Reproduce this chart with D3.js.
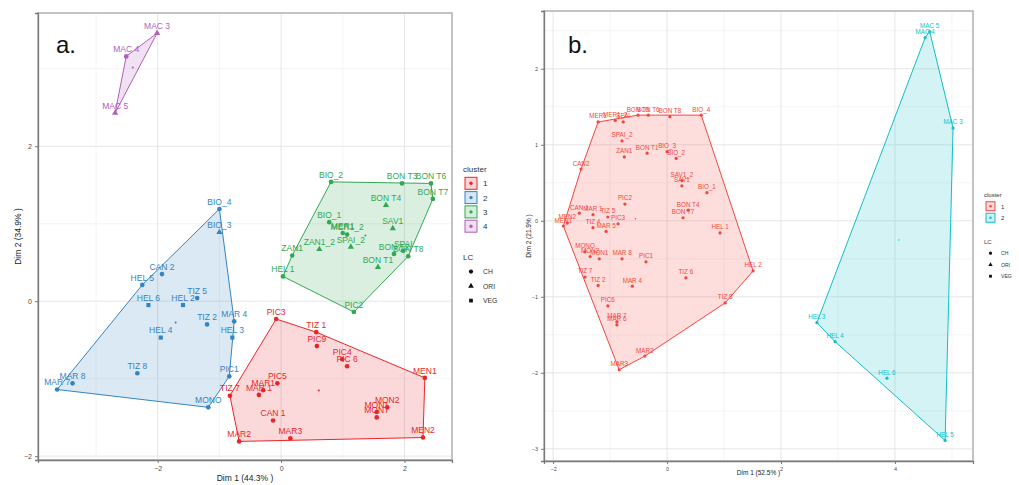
<!DOCTYPE html>
<html>
<head>
<meta charset="utf-8">
<script src="https://cdn.jsdelivr.net/npm/d3@7"></script>
<style>
  body { margin: 0; background: #fff; }
  text { font-family: "Liberation Sans", Arial, sans-serif; }
</style>
</head>
<body>
<div id="block"></div>
<script>
// panel a: points (label, Dim1, Dim2, cluster, LC)
var aLabels = ["MAC 3","MAC 4","MAC 5",
  "BIO_2","BON T3","BON T6","BON T7","BON T4","BIO_1","SAV1","MER1","MER1_2","SPAI_2","ZAN1_2","ZAN1","HEL 1","BON T1","BON T2","SPAI","BON T8","PIC2",
  "BIO_4","BIO_3","CAN 2","HEL 5","TIZ 5","HEL 6","HEL 2","TIZ 2","MAR 4","HEL 3","HEL 4","TIZ 8","PIC1","MAR 8","MAR 7","MONO",
  "PIC3","TIZ 1","PIC9","PIC4","PIC 6","MEN1","PIC5","MAR1","MAR 1","TIZ 7","MON2","MON1","MONT","CAN 1","MAR2","MAR3","MEN2"];
var aDim1 = [-2.01,-2.51,-2.69,
  0.81,1.96,2.43,2.46,1.70,0.78,1.81,1.00,1.07,1.13,0.62,0.18,0.03,1.57,1.83,1.98,2.06,1.18,
  -1.00,-1.00,-1.93,-2.25,-1.36,-2.15,-1.59,-1.20,-0.76,-0.79,-1.95,-2.33,-0.84,-3.38,-3.63,-1.18,
  -0.08,0.57,0.58,0.99,1.07,2.33,-0.06,-0.29,-0.36,-0.83,1.72,1.55,1.55,-0.13,-0.68,0.15,2.30];
var aDim2 = [3.46,3.16,2.43,
  1.54,1.52,1.52,1.32,1.24,1.02,0.94,0.88,0.86,0.70,0.67,0.59,0.32,0.44,0.61,0.65,0.58,-0.14,
  1.19,0.89,0.35,0.21,0.04,-0.05,-0.05,-0.30,-0.26,-0.47,-0.47,-0.93,-0.97,-1.06,-1.14,-1.37,
  -0.23,-0.40,-0.58,-0.75,-0.84,-0.99,-1.06,-1.15,-1.21,-1.22,-1.37,-1.43,-1.50,-1.54,-1.81,-1.77,-1.76];
var aCluster = [4,4,4,
  3,3,3,3,3,3,3,3,3,3,3,3,3,3,3,3,3,3,
  2,2,2,2,2,2,2,2,2,2,2,2,2,2,2,2,
  1,1,1,1,1,1,1,1,1,1,1,1,1,1,1,1,1];
var aLC = ["ORI","CH","ORI",
  "CH","CH","CH","CH","ORI","CH","ORI","CH","CH","ORI","ORI","CH","CH","ORI","CH","CH","CH","CH",
  "CH","ORI","CH","CH","CH","VEG","VEG","CH","CH","VEG","VEG","CH","CH","CH","CH","CH",
  "CH","CH","CH","CH","CH","CH","CH","CH","CH","CH","CH","CH","CH","CH","CH","CH","CH"];

// panel b
var bLabels = ["MAC 5","MAC 4","MAC 3","HEL 3","HEL 4","HEL 6","HEL 5",
  "BIO_4","BON T8","BON T6","BON T3","MER1","MER1_2","SPAI","SPAI_2","ZAN1","BON T1","BIO_3","BIO_2","CAN2",
  "SAV1_2","SAV1","BIO_1","PIC2","BON T4","BON T7","CAN 1","MAR 1","TIZ 5","PIC3","MEN1","MEN2","TIZ 4","MAR 5",
  "HEL 1","MONO","MON2","MON1","MAR 8","PIC1","TIZ 7","TIZ 2","MAR 4","TIZ 6","HEL 2","TIZ 8","PIC6","MAR 6","MAR 7","MAR2","MAR3"];
var bDim1 = [4.61,4.53,5.02,2.63,2.95,3.86,4.88,
  0.60,0.05,-0.33,-0.51,-1.21,-0.91,-0.77,-0.79,-0.75,-0.35,0.00,0.16,-1.51,
  0.26,0.26,0.70,-0.74,0.37,0.28,-1.54,-1.30,-1.04,-0.86,-1.82,-1.75,-1.30,-1.07,
  0.93,-1.44,-1.35,-1.19,-0.79,-0.37,-1.44,-1.21,-0.61,0.33,1.51,1.02,-1.04,-0.88,-0.88,-0.39,-0.84];
var bDim2 = [2.49,2.41,1.22,-1.34,-1.59,-2.07,-2.89,
  1.39,1.37,1.39,1.39,1.30,1.32,1.30,1.05,0.84,0.89,0.91,0.82,0.68,
  0.53,0.46,0.37,0.22,0.14,0.04,0.10,0.08,0.05,-0.04,-0.07,-0.03,-0.09,-0.14,
  -0.16,-0.41,-0.47,-0.50,-0.50,-0.54,-0.74,-0.85,-0.86,-0.75,-0.66,-1.08,-1.12,-1.37,-1.33,-1.78,-1.96];
var bCluster = [2,2,2,2,2,2,2,
  1,1,1,1,1,1,1,1,1,1,1,1,1,1,1,1,1,1,1,1,1,1,1,1,1,1,1,1,1,1,1,1,1,1,1,1,1,1,1,1,1,1,1,1];

var aColors = ["#E8262A","#3484C4","#33A852","#B35DBA"];
var bColors = ["#F4463E","#12BFC8"];
var lcLevels = ["CH","ORI","VEG"];

var w = 1019, h = 485;
var svg = d3.select("#block").append("svg").attr("width", w).attr("height", h);

var shapeOf = { CH: d3.symbolCircle, ORI: d3.symbolTriangle, VEG: d3.symbolSquare };

function drawPanel(o) {
  var g = svg.append("g");
  var x = d3.scaleLinear().domain(o.xdom).range([o.left, o.right]);
  var y = d3.scaleLinear().domain(o.ydom).range([o.bottom, o.top]);

  // grid
  g.selectAll(".minx").data(o.xminor).enter().append("line")
    .attr("x1", d => x(d)).attr("x2", d => x(d)).attr("y1", o.top).attr("y2", o.bottom)
    .attr("stroke", "#f1f1f1").attr("stroke-width", 0.8);
  g.selectAll(".miny").data(o.yminor).enter().append("line")
    .attr("y1", d => y(d)).attr("y2", d => y(d)).attr("x1", o.left).attr("x2", o.right)
    .attr("stroke", "#f1f1f1").attr("stroke-width", 0.8);
  g.selectAll(".majx").data(o.xticks).enter().append("line")
    .attr("x1", d => x(d)).attr("x2", d => x(d)).attr("y1", o.top).attr("y2", o.bottom)
    .attr("stroke", "#e6e6e6").attr("stroke-width", 1);
  g.selectAll(".majy").data(o.yticks).enter().append("line")
    .attr("y1", d => y(d)).attr("y2", d => y(d)).attr("x1", o.left).attr("x2", o.right)
    .attr("stroke", "#e6e6e6").attr("stroke-width", 1);

  // hulls
  var pts = o.labels.map((l, i) => ({ label: l, x: o.dim1[i], y: o.dim2[i], c: o.cluster[i], lc: o.lc ? o.lc[i] : "CH" }));
  var groups = d3.groups(pts, d => d.c).sort((a, b) => a[0] - b[0]);
  groups.forEach(function (gr) {
    var col = o.colors[gr[0] - 1];
    var hull = d3.polygonHull(gr[1].map(d => [x(d.x), y(d.y)]));
    g.append("path").attr("d", "M" + hull.join("L") + "Z")
      .attr("fill", col).attr("fill-opacity", 0.18)
      .attr("stroke", col).attr("stroke-width", 1);
    // cluster centre
    g.append("circle").attr("cx", x(d3.mean(gr[1], d => d.x))).attr("cy", y(d3.mean(gr[1], d => d.y)))
      .attr("r", o.ptSize * 0.45).attr("fill", col);
  });

  // points
  g.selectAll(".pt").data(pts).enter().append("path")
    .attr("transform", d => "translate(" + x(d.x) + "," + y(d.y) + ")")
    .attr("d", d => d3.symbol().type(shapeOf[d.lc]).size(o.ptSize * o.ptSize * 3.2)())
    .attr("fill", d => o.colors[d.c - 1]);

  // labels
  g.selectAll(".lab").data(pts).enter().append("text")
    .attr("x", d => x(d.x)).attr("y", d => y(d.y) - o.ptSize - 2)
    .attr("text-anchor", "middle").attr("font-size", o.labSize)
    .attr("fill", d => o.colors[d.c - 1]).text(d => d.label);

  // border
  g.append("rect").attr("x", o.left).attr("y", o.top)
    .attr("width", o.right - o.left).attr("height", o.bottom - o.top)
    .attr("fill", "none").attr("stroke", "#c4c4c4").attr("stroke-width", 2);

  // axes
  var ax = g.append("g").attr("transform", "translate(0," + o.bottom + ")")
    .call(d3.axisBottom(x).tickValues(o.xticks).tickSize(3).tickFormat(d3.format("d")));
  var ay = g.append("g").attr("transform", "translate(" + o.left + ",0)")
    .call(d3.axisLeft(y).tickValues(o.yticks).tickSize(3).tickFormat(d3.format("d")));
  [ax, ay].forEach(function (a) {
    a.select(".domain").attr("stroke", "#7a7a7a").attr("stroke-width", 1.3);
    a.selectAll(".tick line").attr("stroke", "#7a7a7a");
    a.selectAll(".tick text").attr("fill", "#4d4d4d").attr("font-size", o.tickSize)
      .attr("font-family", "Liberation Sans, Arial, sans-serif");
  });

  g.append("text").attr("x", (o.left + o.right) / 2).attr("y", o.xlabY)
    .attr("text-anchor", "middle").attr("font-size", o.axSize).attr("fill", "#222").text(o.xlab);
  g.append("text").attr("transform", "translate(" + o.ylabX + "," + ((o.top + o.bottom) / 2) + ") rotate(-90)")
    .attr("text-anchor", "middle").attr("font-size", o.axSize).attr("fill", "#222").text(o.ylab);

  g.append("text").attr("x", o.tagX).attr("y", o.tagY).attr("font-size", 24)
    .attr("fill", "#111").text(o.tag);

  // legend
  var L = o.legend;
  g.append("text").attr("x", L.x).attr("y", L.y).attr("font-size", L.fs).attr("fill", "#333").text("cluster");
  o.colors.forEach(function (col, i) {
    var yy = L.y + L.step * (i + 1) - L.box * 0.75;
    g.append("rect").attr("x", L.x + 2).attr("y", yy).attr("width", L.box).attr("height", L.box)
      .attr("fill", col).attr("fill-opacity", 0.2).attr("stroke", col).attr("stroke-width", 1);
    g.append("circle").attr("cx", L.x + 2 + L.box / 2).attr("cy", yy + L.box / 2).attr("r", L.box * 0.14).attr("fill", col);
    g.append("text").attr("x", L.x + L.box + 8).attr("y", yy + L.box * 0.75).attr("font-size", L.fs)
      .attr("fill", "#333").text(i + 1);
  });
  var ly = L.y + L.step * (o.colors.length + 1) + L.gap;
  g.append("text").attr("x", L.x).attr("y", ly).attr("font-size", L.fs).attr("fill", "#333").text("LC");
  lcLevels.forEach(function (lv, i) {
    var yy = ly + L.lstep * (i + 1);
    g.append("path").attr("transform", "translate(" + (L.x + 2 + L.box / 2) + "," + (yy - L.fs * 0.3) + ")")
      .attr("d", d3.symbol().type(shapeOf[lv]).size(L.sym)()).attr("fill", "#111");
    g.append("text").attr("x", L.x + L.box + 8).attr("y", yy).attr("font-size", L.fs * 0.85)
      .attr("fill", "#333").text(lv);
  });
}

drawPanel({
  labels: aLabels, dim1: aDim1, dim2: aDim2, cluster: aCluster, lc: aLC, colors: aColors,
  xdom: [-3.94, 2.77], ydom: [-2.05, 3.72], left: 38, right: 452, top: 13, bottom: 460,
  xticks: [-2, 0, 2], yticks: [-2, 0, 2], xminor: [-3, -1, 1], yminor: [-1, 1, 3],
  ptSize: 2.3, labSize: 8.5, tickSize: 7, axSize: 8.5,
  xlab: "Dim 1 (44.3% )", ylab: "Dim 2 (34.9% )", xlabY: 481, ylabX: 21,
  tag: "a.", tagX: 56, tagY: 53,
  legend: { x: 463, y: 172, step: 14.3, box: 12, fs: 8, gap: 16, lstep: 14.5, sym: 14 }
});

drawPanel({
  labels: bLabels, dim1: bDim1, dim2: bDim2, cluster: bCluster, lc: null, colors: bColors,
  xdom: [-2.16, 5.37], ydom: [-3.16, 2.76], left: 544, right: 973, top: 11, bottom: 461,
  xticks: [-2, 0, 2, 4], yticks: [-3, -2, -1, 0, 1, 2], xminor: [-1, 1, 3, 5], yminor: [-2.5, -1.5, -0.5, 0.5, 1.5, 2.5],
  ptSize: 1.6, labSize: 6.3, tickSize: 5.5, axSize: 6.5,
  xlab: "Dim 1 (52.5% )", ylab: "Dim 2 (21.9% )", xlabY: 475, ylabX: 531,
  tag: "b.", tagX: 568, tagY: 53,
  legend: { x: 984, y: 197, step: 11.5, box: 9, fs: 6, gap: 12, lstep: 11.5, sym: 8 }
});
</script>
</body>
</html>
